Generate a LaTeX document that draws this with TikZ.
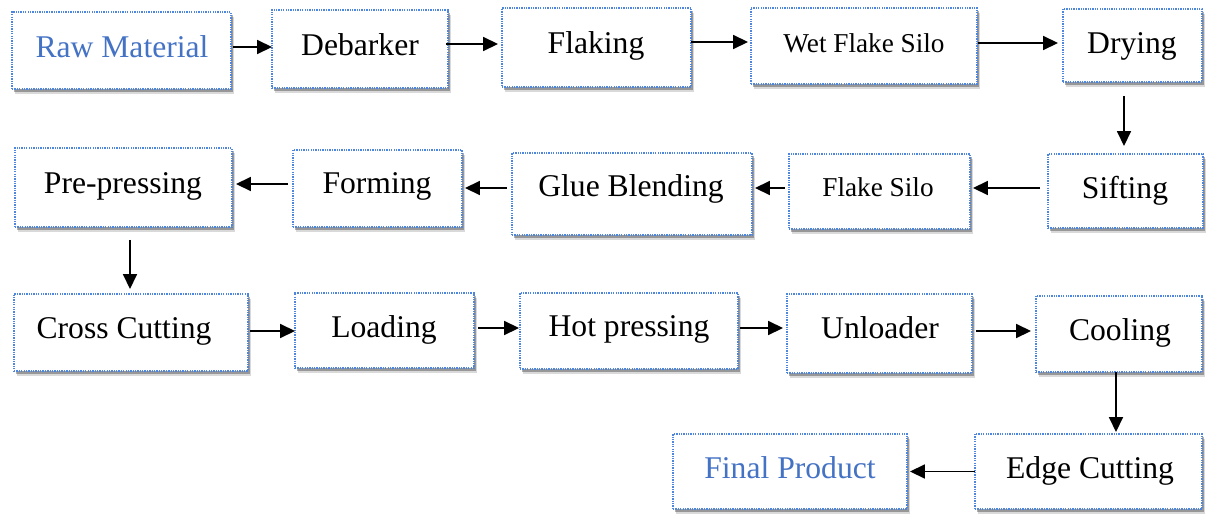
\documentclass[tikz,border=0pt]{standalone}
\usepackage{fontspec}
\setmainfont{Liberation Serif}
\usetikzlibrary{arrows.meta,shadows,calc}
\definecolor{bordblue}{HTML}{4D86DC}
\definecolor{txtblue}{HTML}{4472C4}
\tikzset{
  box/.style={draw=bordblue, line width=1.1pt, dash pattern=on 0.75pt off 0.6pt, fill=white, inner sep=0pt, outer sep=0pt,
    drop shadow={shadow xshift=1.6pt, shadow yshift=-2.6pt, fill=black, opacity=0.15},
    drop shadow={shadow xshift=1.1pt, shadow yshift=-1.8pt, fill=black, opacity=0.3}},
  txt/.style={anchor=base, inner sep=0pt, font=\fontsize{18}{20}\selectfont},
  stxt/.style={anchor=base, inner sep=0pt, font=\fontsize{15.5}{18}\selectfont},
  arr/.style={draw=black, line width=0.8pt, -{Triangle[length=8.5pt,width=8pt]}},
}
\newcommand\pbox[5]{%
  \node[box, minimum width={(#4-#2)*0.569055pt}, minimum height={(#5-#3)*0.569055pt}] (#1) at ({(#2+#4)/2},{(#3+#5)/2}) {};}
\begin{document}
\begin{tikzpicture}[x=0.02cm,y=-0.02cm]
\useasboundingbox (0,0) rectangle (1208,514);
% boxes
\pbox{raw}{12}{12}{231}{89}
\pbox{deb}{272}{10}{448}{88}
\pbox{flak}{502}{8}{691}{87}
\pbox{wet}{751}{8}{977}{84}
\pbox{dry}{1063}{9}{1202}{82}
\pbox{pre}{15}{148}{232}{227}
\pbox{form}{293}{150}{462}{227}
\pbox{glue}{512}{153}{752}{235}
\pbox{fsilo}{789}{154}{970}{229}
\pbox{sift}{1048}{154}{1203}{228}
\pbox{cross}{14}{294}{248}{371}
\pbox{load}{295}{293}{474}{368}
\pbox{hot}{520}{293}{738}{369}
\pbox{unl}{787}{294}{972}{373}
\pbox{cool}{1036}{296}{1202}{372}
\pbox{fin}{673}{434}{907}{509}
\pbox{edge}{975}{434}{1202}{509}
% texts
\node[txt, text=txtblue] (rawt) at (122,57) {Raw Material};
\node[txt] (debt) at (360,55) {Debarker};
\node[txt] (flakt) at (596,53) {Flaking};
\node[stxt] (wett) at (864,52) {Wet Flake Silo};
\node[txt] (dryt) at (1132,53) {Drying};
\node[txt] (pret) at (123,193) {Pre-pressing};
\node[txt] (formt) at (377,193) {Forming};
\node[txt] (gluet) at (631,196) {Glue Blending};
\node[stxt] (fsilot) at (878,196) {Flake Silo};
\node[txt] (siftt) at (1125,198) {Sifting};
\node[txt] (crosst) at (124,338) {Cross Cutting};
\node[txt] (loadt) at (384,337) {Loading};
\node[txt] (hott) at (629,336) {Hot pressing};
\node[txt] (unlt) at (880,338) {Unloader};
\node[txt] (coolt) at (1120,340) {Cooling};
\node[txt, text=txtblue] (fint) at (790,478) {Final Product};
\node[txt] (edget) at (1090,478) {Edge Cutting};
% arrows
\draw[arr] ($(raw.east)+(2,-3.5)$) -- ($(raw.east -| deb.west)+(0,-3.5)$);
\draw[arr] ($(deb.east)+(-2,-5)$) -- ($(deb.east -| flak.west)+(-4,-5)$);
\draw[arr] ($(flak.east)+(0,-5.5)$) -- ($(flak.east -| wet.west)+(-3,-5.5)$);
\draw[arr] ($(wet.east)+(1,-3)$) -- ($(wet.east -| dry.west)+(-5,-3)$);
\draw[arr] ($(dry.south)+(-8.5,14)$) -- ($(sift.north -| dry.south)+(-8.5,-8)$);
\draw[arr] ($(sift.west)+(-8,-3)$) -- ($(sift.west -| fsilo.east)+(3,-3)$);
\draw[arr] ($(fsilo.west)+(-4,-3.5)$) -- ($(fsilo.west -| glue.east)+(3,-3.5)$);
\draw[arr] ($(glue.west)+(-5,-6)$) -- ($(glue.west -| form.east)+(3,-6)$);
\draw[arr] ($(form.west)+(-5,-4.5)$) -- ($(form.west -| pre.east)+(4,-4.5)$);
\draw[arr] ($(pre.south)+(6.5,13)$) -- ($(cross.north -| pre.south)+(6.5,-5)$);
\draw[arr] ($(cross.east)+(2,-1.5)$) -- ($(cross.east -| load.west)+(0,-1.5)$);
\draw[arr] ($(load.east)+(4,-2.5)$) -- ($(load.east -| hot.west)+(-1,-2.5)$);
\draw[arr] ($(hot.east)+(2,-3)$) -- ($(hot.east -| unl.west)+(-4,-3)$);
\draw[arr] ($(unl.east)+(4,-2.5)$) -- ($(unl.east -| cool.west)+(-5,-2.5)$);
\draw[arr] ($(cool.south)+(-3,0)$) -- ($(edge.north -| cool.south)+(-3,-2)$);
\draw[arr] ($(edge.west)+(0,0)$) -- ($(edge.west -| fin.east)+(3,0)$);
\end{tikzpicture}
\end{document}
